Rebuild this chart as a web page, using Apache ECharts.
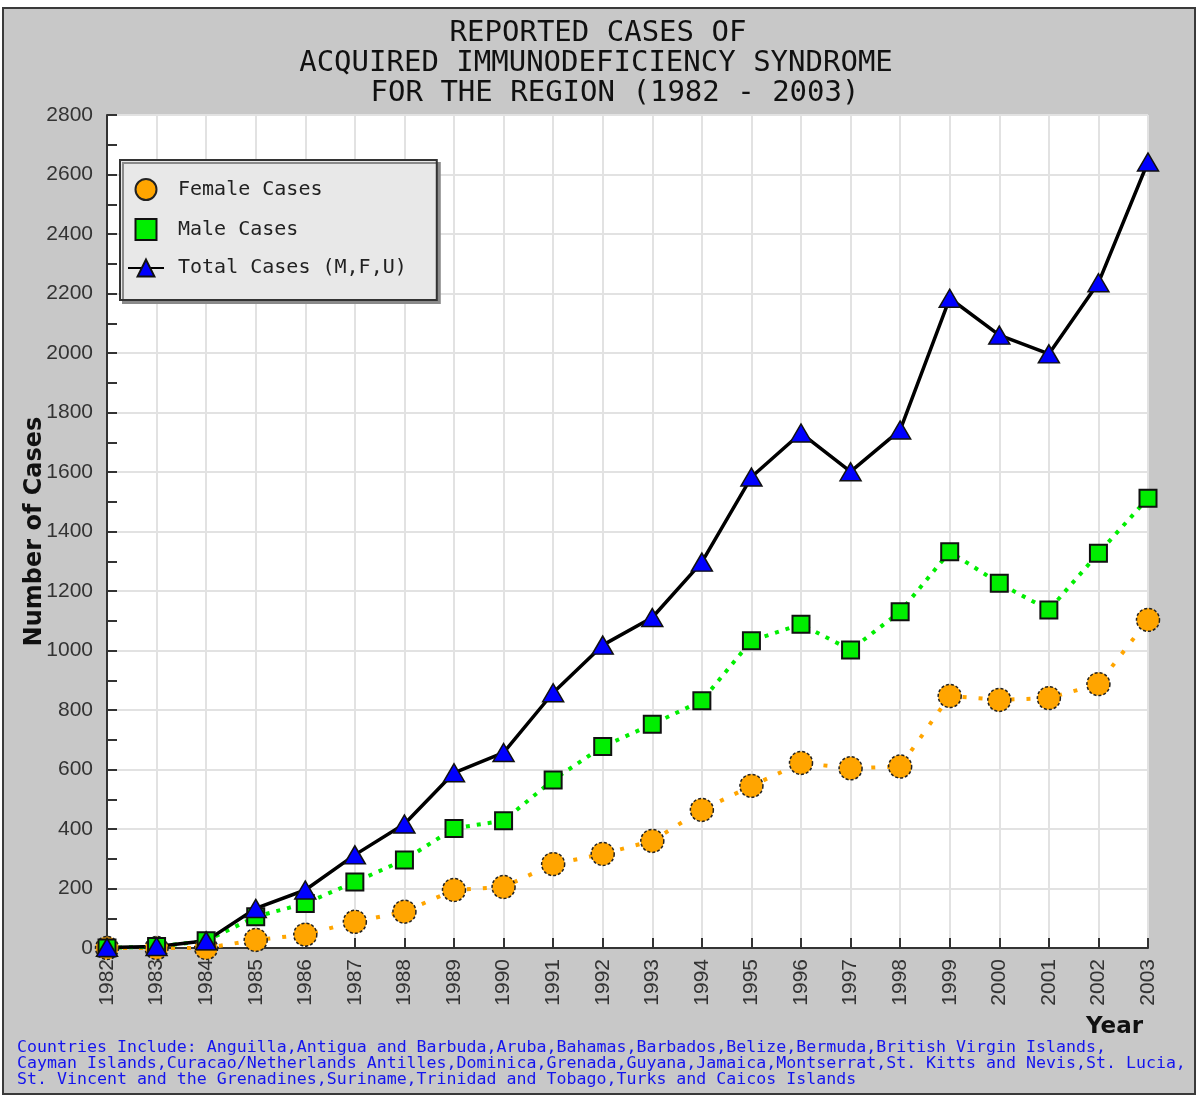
<!DOCTYPE html>
<html>
<head>
<meta charset="utf-8">
<script src="https://cdn.jsdelivr.net/npm/echarts@6/dist/echarts.min.js"></script>
<style>
html,body{margin:0;padding:0;background:#fff;}
#main{width:1200px;height:1097px;}
</style>
</head>
<body>
<div id="main"></div>
<script>
var years = ['1982','1983','1984','1985','1986','1987','1988','1989','1990','1991','1992',
	'1993','1994','1995','1996','1997','1998','1999','2000','2001','2002','2003'];
var femaleCases = [0,0,0,27,45,88,122,195,205,282,316,360,464,545,622,604,610,847,834,840,887,1103];
var maleCases = [0,5,24,105,150,222,296,402,428,565,677,752,831,1033,1088,1002,1130,1332,1226,1136,1327,1512];
var totalCases = [2,5,24,133,195,313,417,589,657,858,1018,1111,1297,1583,1731,1601,1741,2184,2060,1997,2236,2642];
var titleLines = ['REPORTED CASES OF','ACQUIRED IMMUNODEFICIENCY SYNDROME','FOR THE REGION (1982 - 2003)'];
var noteLines = [
	'Countries Include: Anguilla,Antigua and Barbuda,Aruba,Bahamas,Barbados,Belize,Bermuda,British Virgin Islands,',
	'Cayman Islands,Curacao/Netherlands Antilles,Dominica,Grenada,Guyana,Jamaica,Montserrat,St. Kitts and Nevis,St. Lucia,',
	'St. Vincent and the Grenadines,Suriname,Trinidad and Tobago,Turks and Caicos Islands'
];

window.onload=function(){
	var myChart = echarts.init(document.getElementById('main'));
	var mono = '"DejaVu Sans Mono", monospace';
	var titleX = [598, 596, 615];
	var titles = [];
	for (var i = 0; i < titleLines.length; i++) {
		titles.push({
			text: titleLines[i],
			left: titleX[i],
			top: 19 + i * 30,
			textAlign: 'center',
			padding: 0,
			textStyle: {fontFamily: mono, fontSize: 29, fontWeight: 'normal', color: '#111'}
		});
	}
	var graphics = [{
		type: 'rect',
		z: -10,
		shape: {x: 3, y: 8, width: 1192, height: 1086},
		style: {fill: '#c8c8c8', stroke: '#3a3a3a', lineWidth: 2}
	},{
		type: 'text',
		x: 1143, y: 1027,
		style: {text: 'Year', align: 'right', verticalAlign: 'middle',
			font: 'bold 23px "DejaVu Sans"', fill: '#111'}
	}];
	for (var j = 0; j < noteLines.length; j++) {
		graphics.push({
			type: 'text',
			x: 17, y: 1048 + j * 16,
			style: {text: noteLines[j], align: 'left', verticalAlign: 'middle',
				font: '16.6px "DejaVu Sans Mono"', fill: '#1414ee'}
		});
	}
	myChart.setOption({
		backgroundColor: '#fff',
		animation: false,
		title: titles,
		graphic: graphics,
		legend: {
			orient: 'vertical',
			left: 120,
			top: 160,
			padding: [18, 30, 22, 7],
			itemGap: 17,
			itemWidth: 36,
			itemHeight: 21,
			backgroundColor: '#e8e8e8',
			borderColor: '#333',
			borderWidth: 2,
			borderRadius: 0,
			shadowColor: '#8a8a8a',
			shadowBlur: 0,
			shadowOffsetX: 3,
			shadowOffsetY: 3,
			textStyle: {fontFamily: mono, fontSize: 20, color: '#222', padding: [0, 0, 0, 9]},
			data: [
				{name: 'Female Cases', icon: 'circle'},
				{name: 'Male Cases', icon: 'path://M0,0h10v10h-10z'},
				{name: 'Total Cases (M,F,U)'}
			]
		},
		grid: {left: 107, right: 52, top: 115, bottom: 149, outerBoundsMode: 'none',
			show: true, backgroundColor: '#fff', borderWidth: 0},
		xAxis: {
			type: 'category',
			boundaryGap: false,
			data: years,
			axisLine: {lineStyle: {color: '#333', width: 2}},
			axisTick: {show: true, inside: true, length: 10, alignWithLabel: true, lineStyle: {color: '#333', width: 2}},
			axisLabel: {rotate: 90, margin: 11, fontFamily: '"Liberation Sans"', fontSize: 21, color: '#333',
				interval: 0, hideOverlap: false},
			splitLine: {show: true, interval: 0, lineStyle: {color: '#e2e2e2', width: 2}}
		},
		yAxis: {
			type: 'value',
			min: 0,
			max: 2800,
			interval: 200,
			name: 'Number of Cases',
			nameLocation: 'middle',
			nameGap: 60,
			nameMoveOverlap: false,
			nameTextStyle: {fontFamily: '"DejaVu Sans"', fontWeight: 'bold', fontSize: 24, color: '#111'},
			axisLine: {show: true, lineStyle: {color: '#333', width: 2}},
			axisTick: {show: true, inside: true, length: 10, lineStyle: {color: '#333', width: 2}},
			minorTick: {show: true, splitNumber: 2, length: 10, lineStyle: {color: '#333', width: 2}},
			axisLabel: {margin: 14, fontFamily: '"Liberation Sans"', fontSize: 21, color: '#333',
				formatter: function (v) { return String(v); }},
			splitLine: {show: true, lineStyle: {color: '#e2e2e2', width: 2}}
		},
		series: [{
			name: 'Female Cases',
			type: 'line',
			data: femaleCases,
			symbol: 'circle',
			symbolSize: 23,
			itemStyle: {color: '#ffa500', borderColor: '#222', borderWidth: 1.5, borderType: [3, 2]},
			lineStyle: {color: '#ffa500', width: 4, type: [4, 12]}
		},{
			name: 'Male Cases',
			type: 'line',
			data: maleCases,
			symbol: 'rect',
			symbolSize: 17,
			itemStyle: {color: '#00ee00', borderColor: '#111', borderWidth: 2},
			lineStyle: {color: '#00ee00', width: 4, type: [4, 7]}
		},{
			name: 'Total Cases (M,F,U)',
			type: 'line',
			data: totalCases,
			symbol: 'triangle',
			symbolSize: [21, 18],
			itemStyle: {color: '#0000ff', borderColor: '#111', borderWidth: 1.5},
			lineStyle: {color: '#000', width: 3.5, type: 'solid'}
		}]
	});
}
</script>
</body>
</html>
